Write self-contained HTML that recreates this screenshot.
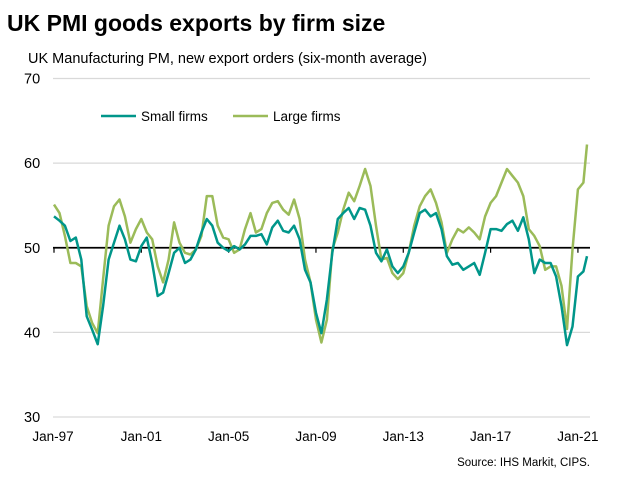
<!DOCTYPE html>
<html><head><meta charset="utf-8"><style>
body{margin:0;background:#fff;width:622px;height:489px;overflow:hidden;font-family:"Liberation Sans",Arial,sans-serif}
svg text{font-family:"Liberation Sans",Arial,sans-serif}
</style></head><body>
<svg id="chart" width="622" height="489">
<text x="7" y="31" font-size="23" font-weight="bold" fill="#000">UK PMI goods exports by firm size</text>
<text x="28" y="63" font-size="14.5" fill="#000">UK Manufacturing PM, new export orders (six-month average)</text>
<g id="grid"></g><g id="series"></g>
<g>
<line x1="101" y1="116" x2="136" y2="116" stroke="#00968a" stroke-width="2.5"/>
<text x="141" y="121" font-size="13.5" fill="#000">Small firms</text>
<line x1="233" y1="116" x2="268" y2="116" stroke="#9bbb59" stroke-width="2.5"/>
<text x="273" y="121" font-size="13.5" fill="#000">Large firms</text>
</g>
<text x="590" y="466" font-size="11.5" text-anchor="end" fill="#000">Source: IHS Markit, CIPS.</text>
</svg>
<script>
const dates=["1997-01","1997-04","1997-07","1997-10","1998-01","1998-04","1998-07","1998-10","1999-01","1999-04","1999-07","1999-10","2000-01","2000-04","2000-07","2000-10","2001-01","2001-04","2001-07","2001-10","2002-01","2002-04","2002-07","2002-10","2003-01","2003-04","2003-07","2003-10","2004-01","2004-04","2004-07","2004-10","2005-01","2005-04","2005-07","2005-10","2006-01","2006-04","2006-07","2006-10","2007-01","2007-04","2007-07","2007-10","2008-01","2008-04","2008-07","2008-10","2009-01","2009-04","2009-07","2009-10","2010-01","2010-04","2010-07","2010-10","2011-01","2011-04","2011-07","2011-10","2012-01","2012-04","2012-07","2012-10","2013-01","2013-04","2013-07","2013-10","2014-01","2014-04","2014-07","2014-10","2015-01","2015-04","2015-07","2015-10","2016-01","2016-04","2016-07","2016-10","2017-01","2017-04","2017-07","2017-10","2018-01","2018-04","2018-07","2018-10","2019-01","2019-04","2019-07","2019-10","2020-01","2020-04","2020-07","2020-10","2021-01","2021-04","2021-06"];
const smallFirms=[53.7,53.2,52.6,50.8,51.2,48.6,41.9,40.3,38.6,43.1,48.6,50.6,52.6,51.0,48.6,48.4,50.2,51.2,48.2,44.3,44.7,47.0,49.4,50.0,48.2,48.6,49.8,51.8,53.4,52.6,50.6,50.0,49.6,50.2,49.8,50.4,51.4,51.4,51.6,50.4,52.4,53.2,52.0,51.8,52.6,51.0,47.4,45.9,42.3,39.9,43.9,49.4,53.4,54.1,54.7,53.4,54.7,54.5,52.6,49.4,48.4,49.8,47.8,47.0,47.8,49.4,51.8,54.1,54.5,53.7,54.1,52.2,49.0,48.0,48.2,47.4,47.8,48.2,46.8,49.4,52.2,52.2,52.0,52.8,53.2,52.0,53.6,51.0,47.0,48.6,48.2,48.2,46.6,43.1,38.5,40.7,46.6,47.2,49.0];
const largeFirms=[55.1,54.1,51.4,48.2,48.2,47.8,43.1,41.1,39.9,46.3,52.6,54.9,55.7,53.7,50.6,52.2,53.4,51.8,51.0,47.8,45.9,48.6,53.0,50.6,49.4,49.2,49.8,51.4,56.1,56.1,52.6,51.2,51.0,49.4,49.8,52.2,54.1,51.8,52.2,54.1,55.3,55.5,54.5,53.9,55.7,53.4,48.6,45.9,41.5,38.8,41.5,49.8,51.8,54.5,56.5,55.5,57.3,59.3,57.3,52.6,48.6,48.8,47.0,46.3,47.0,49.4,52.6,54.9,56.1,56.9,55.3,53.0,49.4,51.0,52.2,51.8,52.4,51.8,51.0,53.7,55.3,56.1,57.7,59.3,58.5,57.7,56.1,52.2,51.4,50.2,47.4,47.8,47.8,45.5,40.4,49.8,56.9,57.7,62.2];
const yTicks=[30,40,50,60,70];
const xTickLabels=["Jan-97","Jan-01","Jan-05","Jan-09","Jan-13","Jan-17","Jan-21"];
const xTickYears=[1997,2001,2005,2009,2013,2017,2021];

const NS="http://www.w3.org/2000/svg";
const X0=53,X1=590,Y0=417,Y1=78.5;
function yS(v){return Y0-(v-30)/(70-30)*(Y0-Y1);}
function xS(t){return 54+(t-1997)*21.83;}
function dt(s){const p=s.split("-");return +p[0]+(+p[1]-1)/12;}
const grid=document.getElementById("grid");
yTicks.forEach(v=>{
  const l=document.createElementNS(NS,"line");
  l.setAttribute("x1",X0);l.setAttribute("x2",X1);l.setAttribute("y1",yS(v));l.setAttribute("y2",yS(v));
  l.setAttribute("stroke",v===50?"#000":"#d9d9d9");l.setAttribute("stroke-width",v===50?"1.8":"1.2");
  
  
  grid.appendChild(l);
  const t=document.createElementNS(NS,"text");
  t.setAttribute("x",24);t.setAttribute("y",yS(v)+5);t.setAttribute("font-size","14.5");t.textContent=v;
  
  
  grid.appendChild(t);
});
xTickYears.forEach((yr,i)=>{
  const x=xS(yr);
  const tk=document.createElementNS(NS,"line");
  tk.setAttribute("x1",x);tk.setAttribute("x2",x);tk.setAttribute("y1",yS(50));tk.setAttribute("y2",yS(50)+5);
  tk.setAttribute("stroke","#000");tk.setAttribute("stroke-width","1.2");
  
  
  grid.appendChild(tk);
  const t=document.createElementNS(NS,"text");
  t.setAttribute("x",x+(i===0?-1:0));t.setAttribute("y",441);t.setAttribute("font-size","13.5");t.setAttribute("text-anchor","middle");
  t.textContent=xTickLabels[i];
  
  
  grid.appendChild(t);
});
const ser=document.getElementById("series");
function draw(vals,color,name){
  const p=document.createElementNS(NS,"polyline");
  p.setAttribute("points",vals.map((v,i)=>xS(dt(dates[i])).toFixed(1)+","+yS(v).toFixed(1)).join(" "));
  p.setAttribute("fill","none");p.setAttribute("stroke",color);p.setAttribute("stroke-width","2.5");p.setAttribute("stroke-linejoin","round");
  
  
  ser.appendChild(p);
}
draw(largeFirms,"#9bbb59","large-firms-line");
draw(smallFirms,"#00968a","small-firms-line");
</script>
</body></html>
